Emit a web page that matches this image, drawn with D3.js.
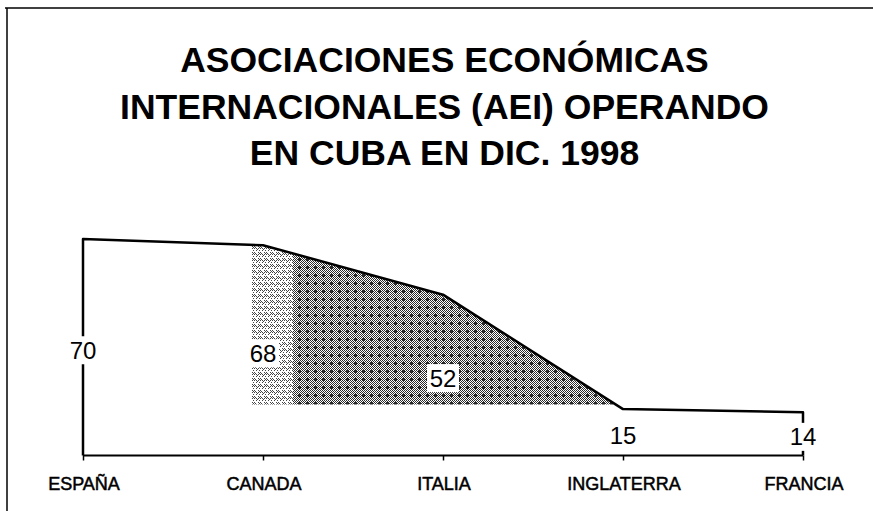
<!DOCTYPE html>
<html>
<head>
<meta charset="utf-8">
<script src="https://cdn.jsdelivr.net/npm/d3@7"></script>
<style>
  body { margin: 0; background: white; }
  svg { display: block; }
</style>
</head>
<body>
<svg id="chart" width="873" height="511"></svg>
<script>
  // data
  var paises = ['ESPAÑA', 'CANADA', 'ITALIA', 'INGLATERRA', 'FRANCIA']
  var aei = [70, 68, 52, 15, 14]
  var titulo = ['ASOCIACIONES ECONÓMICAS', 'INTERNACIONALES (AEI) OPERANDO', 'EN CUBA EN DIC. 1998']
  var sombraBase = 16.5   // shaded band stops above this value

  var data = paises.map(function(p, i){ return {pais: p, valor: aei[i]} })

  var svg = d3.select('#chart')
  var font = '"Liberation Sans", Arial, sans-serif'

  // frame (only top and left edges show in the scan)
  svg.append('line').attr('x1', 5).attr('x2', 873).attr('y1', 8).attr('y2', 8)
    .style('stroke', 'black').style('stroke-width', 1.5)
  svg.append('line').attr('x1', 7).attr('x2', 7).attr('y1', 8).attr('y2', 511)
    .style('stroke', 'black').style('stroke-width', 1.5)

  // title
  svg.selectAll('.titulo').data(titulo)
    .enter().append('text')
    .attr('class', 'titulo')
    .attr('x', 444.5)
    .attr('y', function(d, i){ return 72 + i*46.5 })
    .attr('text-anchor', 'middle')
    .style('font-family', font)
    .style('font-weight', 'bold')
    .style('font-size', '35.5px')
    .text(function(d){ return d })

  var xScale = d3.scalePoint().domain(paises).range([83, 803])
  var yScale = d3.scaleLinear().domain([0, 70]).range([455.5, 239])

  // halftone patterns
  var defs = svg.append('defs')
  var pat = defs.append('pattern').attr('id', 'trama')
    .attr('patternUnits', 'userSpaceOnUse').attr('width', 8).attr('height', 8)
  for (var py = 0; py < 8; py++) {
    for (var px = 0; px < 8; px++) {
      var dark = ((px + py) % 2 == 0) || (px >= 2 && px <= 4 && py >= 2 && py <= 4)
      if (dark) pat.append('rect').attr('x', px).attr('y', py).attr('width', 1).attr('height', 1).attr('fill', '#2a2a2a')
    }
  }
  var patLight = defs.append('pattern').attr('id', 'tramaClara')
    .attr('patternUnits', 'userSpaceOnUse').attr('width', 6).attr('height', 6)
  ;[[0,0],[2,0],[1,1],[3,1],[0,2],[2,2],[4,2],[5,3],[1,4],[4,4]].forEach(function(p){
    patLight.append('rect').attr('x', p[0]).attr('y', p[1]).attr('width', 1).attr('height', 1).attr('fill', '#444')
  })

  defs.append('clipPath').attr('id', 'clipDenso')
    .append('rect').attr('x', 293).attr('y', 0).attr('width', 500).attr('height', yScale(sombraBase))
  defs.append('clipPath').attr('id', 'clipClaro')
    .append('rect').attr('x', 252).attr('y', 0).attr('width', 41).attr('height', yScale(sombraBase))

  var area = d3.area()
    .x(function(d){ return xScale(d.pais) })
    .y0(yScale(0))
    .y1(function(d){ return yScale(d.valor) })

  svg.append('path').datum(data)
    .attr('d', area)
    .attr('fill', 'url(#tramaClara)')
    .attr('clip-path', 'url(#clipClaro)')

  svg.append('path').datum(data)
    .attr('d', area)
    .attr('fill', 'url(#trama)')
    .attr('clip-path', 'url(#clipDenso)')

  // outline: left edge, top line, right edge
  var first = data[0], last = data[data.length-1]
  svg.append('path').datum(data)
    .attr('fill', 'none')
    .attr('stroke', 'black')
    .attr('stroke-width', 2.5)
    .attr('stroke-linejoin', 'round')
    .attr('d', 'M' + xScale(first.pais) + ',' + yScale(0) + 'L' +
      d3.line().x(function(d){ return xScale(d.pais) }).y(function(d){ return yScale(d.valor) })(data).slice(1) +
      'L' + xScale(last.pais) + ',' + yScale(0))

  // x axis
  svg.append('g')
    .attr('transform', 'translate(0,' + yScale(0) + ')')
    .call(d3.axisBottom(xScale).tickSize(5).tickFormat(''))
    .call(function(g){ g.select('.domain').attr('d', 'M' + xScale.range()[0] + ',0H' + xScale.range()[1]).attr('stroke-width', 2) })
    .call(function(g){ g.selectAll('.tick line').attr('stroke-width', 1.5) })

  svg.selectAll('.pais').data(data)
    .enter().append('text')
    .attr('class', 'pais')
    .attr('x', function(d){ return xScale(d.pais) + 1 })
    .attr('y', yScale(0) + 34.5)
    .attr('text-anchor', 'middle')
    .style('font-family', font)
    .style('font-size', '18px')
    .style('stroke', 'black')
    .style('stroke-width', 0.5)
    .text(function(d){ return d.pais })

  // value labels on white boxes, halfway down each column
  var etiquetas = svg.selectAll('.valor').data(data)
    .enter().append('g')
    .attr('class', 'valor')
    .attr('transform', function(d){ return 'translate(' + xScale(d.pais) + ',' + (yScale(d.valor/2) + 3) + ')' })

  etiquetas.append('rect')
    .attr('x', -16).attr('y', -14).attr('width', 32).attr('height', 28)
    .attr('fill', 'white')

  etiquetas.append('text')
    .attr('y', 8.6)
    .attr('text-anchor', 'middle')
    .style('font-family', font)
    .style('font-size', '24px')
    .text(function(d){ return d.valor })
</script>
</body>
</html>
